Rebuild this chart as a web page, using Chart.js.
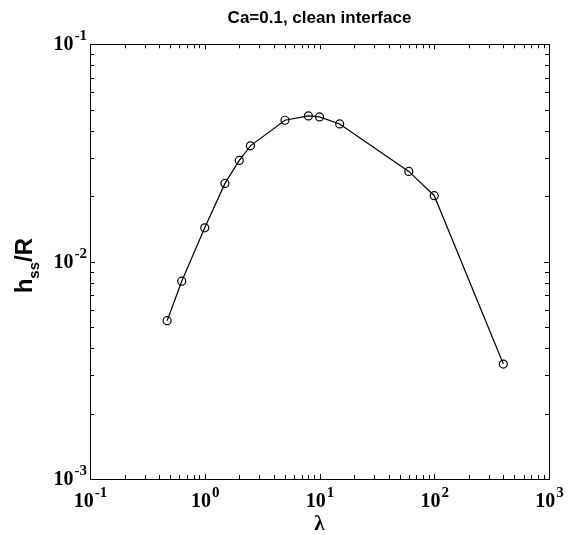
<!DOCTYPE html>
<html>
<head>
<meta charset="utf-8">
<script src="https://cdn.jsdelivr.net/npm/chart.js@4"></script>
<style>
  html, body { margin: 0; padding: 0; background: #fff; }
</style>
</head>
<body>
<canvas id="hssChart" width="569" height="535"></canvas>
<script>
// Data (log-log)
const lambdaValues = [0.47, 0.63, 1, 1.5, 2, 2.5, 5, 8, 10, 15, 60, 100, 400];
const hssValues = [0.00535, 0.00813, 0.0143, 0.0229, 0.0292, 0.0341, 0.0447, 0.0468, 0.0463, 0.0430, 0.0260, 0.0201, 0.00338];

// Axis decades and their labels (base^exponent)
const xDecades = [-1, 0, 1, 2, 3];
const xTickLabels = ['10^-1', '10^0', '10^1', '10^2', '10^3'];
const yDecades = [-3, -2, -1];
const yTickLabels = ['10^-3', '10^-2', '10^-1'];

const baseFont = 'bold 20px "Liberation Serif"';
const expFont = 'bold 15px "Liberation Serif"';

// 1..9 x 10^n ticks for a log axis, major ones at powers of ten
function logTicks(decades) {
    const ticks = [];
    for (let i = 0; i < decades.length - 1; i++) {
        for (let k = 1; k <= 9; k++) {
            ticks.push({ value: Number((k * Math.pow(10, decades[i])).toPrecision(6)), major: k === 1 });
        }
    }
    ticks.push({ value: Math.pow(10, decades[decades.length - 1]), major: true });
    return ticks;
}

// draws "10" with a raised exponent; align is 'center' or 'right'
function drawPower(ctx, label, x, baseline, align) {
    const parts = label.split('^');
    ctx.font = baseFont;
    const wb = ctx.measureText(parts[0]).width;
    ctx.font = expFont;
    const we = ctx.measureText(parts[1]).width;
    const x0 = align === 'right' ? x - wb - we : x - (wb + we) / 2;
    ctx.font = baseFont;
    ctx.fillText(parts[0], x0, baseline);
    ctx.font = expFont;
    ctx.fillText(parts[1], x0 + wb + 1, baseline - 10);
}

// MATLAB style box, inward ticks and powers-of-ten labels
const boxTicks = {
    id: 'boxTicks',
    afterDraw(chart) {
        const { ctx, chartArea: a, scales } = chart;
        ctx.save();
        ctx.strokeStyle = '#000';
        ctx.lineWidth = 1;
        ctx.beginPath();
        scales.x.ticks.forEach(t => {
            const px = Math.round(scales.x.getPixelForValue(t.value)) + 0.5;
            const len = t.major ? 5 : 4;
            ctx.moveTo(px, a.bottom); ctx.lineTo(px, a.bottom - len);
            ctx.moveTo(px, a.top); ctx.lineTo(px, a.top + len);
        });
        scales.y.ticks.forEach(t => {
            const py = Math.round(scales.y.getPixelForValue(t.value)) + 0.5;
            const len = t.major ? 5 : 4;
            ctx.moveTo(a.left, py); ctx.lineTo(a.left + len, py);
            ctx.moveTo(a.right, py); ctx.lineTo(a.right - len, py);
        });
        ctx.stroke();
        ctx.strokeRect(Math.round(a.left) + 0.5, Math.round(a.top) + 0.5,
                       Math.round(a.width), Math.round(a.height));

        ctx.fillStyle = '#000';
        ctx.textAlign = 'left';
        ctx.textBaseline = 'alphabetic';
        xDecades.forEach((d, i) => {
            const px = scales.x.getPixelForValue(Math.pow(10, d));
            drawPower(ctx, xTickLabels[i], px, a.bottom + 28, 'center');
        });
        yDecades.forEach((d, i) => {
            const py = scales.y.getPixelForValue(Math.pow(10, d));
            drawPower(ctx, yTickLabels[i], a.left - 4, py + 6, 'right');
        });

        // y axis title: h_ss/R
        ctx.translate(32, (a.top + a.bottom) / 2 + 4);
        ctx.rotate(-Math.PI / 2);
        const big = 'bold 24px "Liberation Sans"';
        const small = 'bold 15px "Liberation Sans"';
        ctx.font = big;
        const wh = ctx.measureText('h').width;
        const wr = ctx.measureText('/R').width;
        ctx.font = small;
        const ws = ctx.measureText('ss').width;
        let x = -(wh + ws + wr) / 2;
        ctx.font = big;
        ctx.fillText('h', x, 0);
        x += wh;
        ctx.font = small;
        ctx.fillText('ss', x, 7);
        x += ws;
        ctx.font = big;
        ctx.fillText('/R', x, 0);
        ctx.restore();
    }
};

const ctx = document.getElementById('hssChart').getContext('2d');

new Chart(ctx, {
    type: 'line',
    data: {
        datasets: [{
            data: lambdaValues.map((x, i) => ({ x: x, y: hssValues[i] })),
            borderColor: '#000',
            borderWidth: 1.2,
            pointRadius: 4,
            pointBorderWidth: 1.2,
            pointBorderColor: '#000',
            pointBackgroundColor: 'rgba(0,0,0,0)',
            tension: 0,
            clip: false
        }]
    },
    options: {
        responsive: false,
        animation: false,
        devicePixelRatio: 1,
        layout: { padding: { top: 0, right: 20, bottom: 0, left: 0 } },
        plugins: {
            legend: { display: false },
            tooltip: { enabled: false },
            title: {
                display: true,
                text: 'Ca=0.1, clean interface',
                color: '#000',
                fullSize: false,
                font: { family: 'Liberation Sans', size: 17, weight: 'bold', lineHeight: 1.25 },
                padding: { top: 8, bottom: 15 }
            }
        },
        scales: {
            x: {
                type: 'logarithmic',
                min: 0.1,
                max: 1000,
                afterBuildTicks: scale => { scale.ticks = logTicks(xDecades); },
                afterFit: scale => { scale.height = 56; },
                grid: { display: false },
                border: { display: false },
                ticks: { display: false, autoSkip: false },
                title: {
                    display: true,
                    text: 'λ',
                    color: '#000',
                    font: { family: 'Liberation Serif', size: 21, weight: 'bold', lineHeight: 1 },
                    padding: { top: 0, bottom: 0 }
                }
            },
            y: {
                type: 'logarithmic',
                min: 0.001,
                max: 0.1,
                afterBuildTicks: scale => { scale.ticks = logTicks(yDecades); },
                afterFit: scale => { scale.width = 90; },
                grid: { display: false },
                border: { display: false },
                ticks: { display: false, autoSkip: false }
            }
        }
    },
    plugins: [boxTicks]
});
</script>
</body>
</html>
